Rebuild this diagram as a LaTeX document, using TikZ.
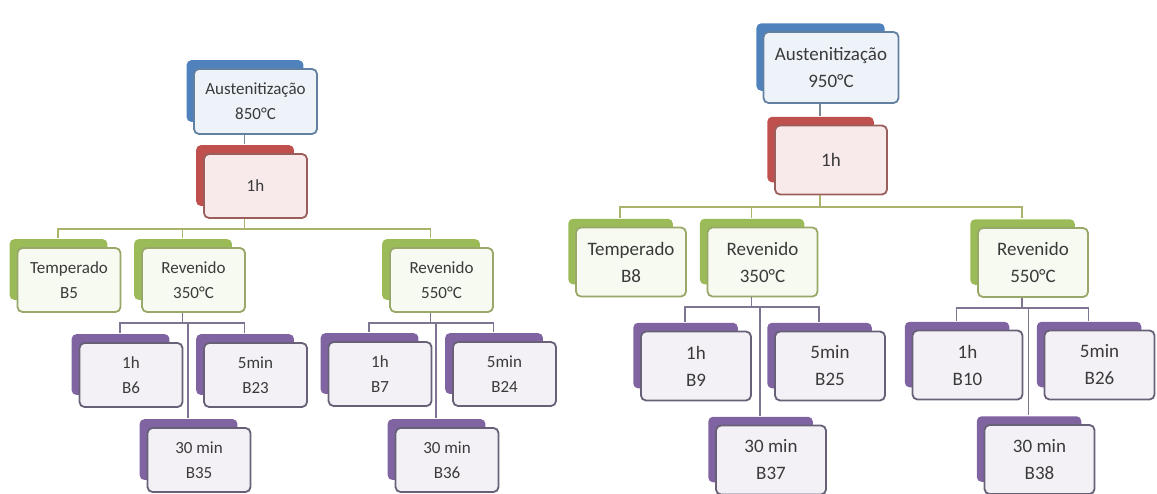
\documentclass[tikz,border=0pt]{standalone}
\usepackage{fontspec}
\setmainfont{Carlito}
\usetikzlibrary{shadows}
\definecolor{ctext}{HTML}{3A3A3A}
\definecolor{cblue}{HTML}{4F81BD}
\definecolor{fblue}{HTML}{EEF3FA}
\definecolor{dblue}{HTML}{62809F}
\definecolor{cred}{HTML}{C0504D}
\definecolor{fred}{HTML}{F8EAEA}
\definecolor{dred}{HTML}{9A5F5C}
\definecolor{cgreen}{HTML}{9BBB59}
\definecolor{fgreen}{HTML}{F7FAF1}
\definecolor{dgreen}{HTML}{97A868}
\definecolor{cpurple}{HTML}{8064A2}
\definecolor{fpurple}{HTML}{F3F1F6}
\definecolor{dpurple}{HTML}{676077}
\definecolor{lblue}{HTML}{7C8795}
\definecolor{lgreen}{HTML}{ABB26C}
\definecolor{lpurple}{HTML}{7F7593}
\tikzset{
    box/.style={draw, rounded corners=5pt, line width=1.8pt, align=center, inner sep=0pt, text=ctext}, % front card
    lbox/.style={box, minimum width=103pt, minimum height=64pt, font=\fontsize{17}{25}\selectfont},
    rbox/.style={box, minimum width=110pt, minimum height=69pt, font=\fontsize{19}{27}\selectfont},
    back/.style={general shadow={shadow xshift=-11pt, shadow yshift=11pt, shadow scale=0.95, fill=#1}}, % card behind
    aus/.style={back=cblue, fill=fblue, draw=dblue},
    hour/.style={back=cred, fill=fred, draw=dred},
    treat/.style={back=cgreen, fill=fgreen, draw=dgreen},
    sample/.style={back=cpurple, fill=fpurple, draw=dpurple},
    conn/.style={line width=1.8pt}
}

\begin{document}
\begin{tikzpicture}[x=1pt,y=-1pt]
    \useasboundingbox (0,0) rectangle (1157,494);

    % 850 C
    \node[lbox, aus, minimum width=123pt, minimum height=65pt] (aus850) at (255.5,101.5) {Austenitização\\850°C};
    \node[lbox, hour] (h850) at (255.5,186) {1h};
    \node[lbox, treat] (b5) at (69,280) {Temperado\\B5};
    \node[lbox, treat] (rev350a) at (193.5,280) {Revenido\\350°C};
    \node[lbox, treat] (rev550a) at (441.5,280) {Revenido\\550°C};
    \node[lbox, sample] (b6) at (131,375) {1h\\B6};
    \node[lbox, sample] (b23) at (255.5,375) {5min\\B23};
    \node[lbox, sample] (b35) at (199,460) {30 min\\B35};
    \node[lbox, sample] (b7) at (380,374) {1h\\B7};
    \node[lbox, sample] (b24) at (504.5,374) {5min\\B24};
    \node[lbox, sample] (b36) at (447,460) {30 min\\B36};

    % 950 C
    \node[rbox, aus, minimum width=135pt, minimum height=71pt] (aus950) at (831,67.5) {Austenitização\\950°C};
    \node[rbox, hour, minimum width=112pt] (h950) at (831,160) {1h};
    \node[rbox, treat] (b8) at (631,262) {Temperado\\B8};
    \node[rbox, treat] (rev350b) at (762.5,262) {Revenido\\350°C};
    \node[rbox, treat] (rev550b) at (1033,262.5) {Revenido\\550°C};
    \node[rbox, sample] (b9) at (696,366) {1h\\B9};
    \node[rbox, sample] (b25) at (830,366) {5min\\B25};
    \node[rbox, sample] (b37) at (771,460) {30 min\\B37};
    \node[rbox, sample] (b10) at (967.5,365) {1h\\B10};
    \node[rbox, sample] (b26) at (1099.5,365) {5min\\B26};
    \node[rbox, sample] (b38) at (1039.5,459.5) {30 min\\B38};

    % connectors
    \draw[conn, lblue] ([xshift=-11pt]aus850.south) -- ([shift={(-11pt,9pt)}]h850.north);
    \draw[conn, lblue] ([xshift=-11pt]aus950.south) -- ([shift={(-11pt,9pt)}]h950.north);

    \draw[conn, lgreen] ([xshift=-11pt]h850.south) -- ++(0,-10pt) coordinate (k850);
    \foreach \c in {b5, rev350a, rev550a}
        \draw[conn, lgreen] (k850) -| ([shift={(-11pt,9pt)}]\c.north);
    \draw[conn, lgreen] ([xshift=-11pt]h950.south) -- ++(0,-12pt) coordinate (k950);
    \foreach \c in {b8, rev350b, rev550b}
        \draw[conn, lgreen] (k950) -| ([shift={(-11pt,9pt)}]\c.north);

    \draw[conn, lpurple] ([xshift=-11pt]rev350a.south) -- ++(0,-10pt) coordinate (k1);
    \foreach \c in {b6, b23, b35}
        \draw[conn, lpurple] (k1) -| ([shift={(-11pt,9pt)}]\c.north);
    \draw[conn, lpurple] ([xshift=-11pt]rev550a.south) -- ++(0,-10pt) coordinate (k2);
    \foreach \c in {b7, b24, b36}
        \draw[conn, lpurple] (k2) -| ([shift={(-11pt,9pt)}]\c.north);
    \draw[conn, lpurple] ([xshift=-11pt]rev350b.south) -- ++(0,-10pt) coordinate (k3);
    \foreach \c in {b9, b25, b37}
        \draw[conn, lpurple] (k3) -| ([shift={(-11pt,9pt)}]\c.north);
    \draw[conn, lpurple] ([xshift=-11pt]rev550b.south) -- ++(0,-10pt) coordinate (k4);
    \foreach \c in {b10, b26, b38}
        \draw[conn, lpurple] (k4) -| ([shift={(-11pt,9pt)}]\c.north);
\end{tikzpicture}
\end{document}
